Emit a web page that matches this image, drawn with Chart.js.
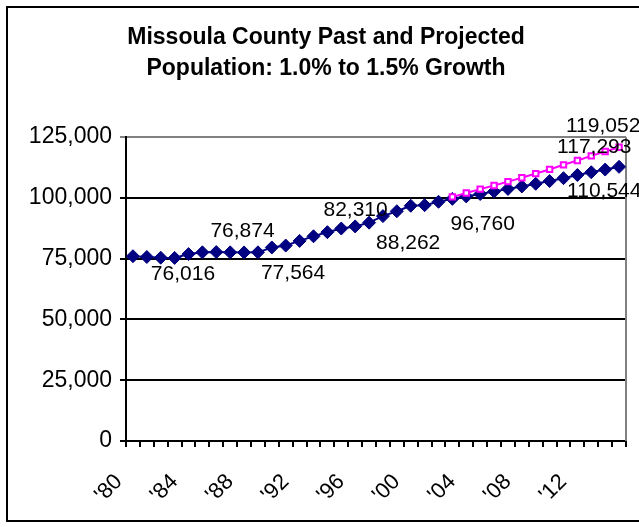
<!DOCTYPE html>
<html>
<head>
<meta charset="utf-8">
<script src="https://cdn.jsdelivr.net/npm/chart.js@4.4.1/dist/chart.umd.min.js"></script>
<style>
  html, body { margin: 0; padding: 0; background: #fff; overflow: hidden; }
</style>
</head>
<body>
<canvas id="population-chart" width="639" height="527"></canvas>
<script>
const years = [
  1980, 1981, 1982, 1983, 1984, 1985, 1986, 1987, 1988, 1989,
  1990, 1991, 1992, 1993, 1994, 1995, 1996, 1997, 1998, 1999,
  2000, 2001, 2002, 2003, 2004, 2005, 2006, 2007, 2008, 2009,
  2010, 2011, 2012, 2013, 2014, 2015,
];
const labeledYears = [1980, 1984, 1988, 1992, 1996, 2000, 2004, 2008, 2012];

// past estimates, then the 1.0% projection
const growthOnePercent = [
  76016, 75700, 75400, 75300, 76874, 77600, 77700, 77600, 77564, 77600,
  79600, 80400, 82310, 84200, 85900, 87400, 88262, 89800, 92500, 94500,
  96760, 97000, 98400, 99600, 100600, 101600, 102600, 103700, 104700, 105800,
  106900, 108100, 109400, 110544, 111649, 112766,
];
// 1.5% projection, starting 2003
const growthOneHalfPercent = [
  null, null, null, null, null, null, null, null, null, null,
  null, null, null, null, null, null, null, null, null, null,
  null, null, null, 100400, 102000, 103600, 105100, 106700, 108300, 110000,
  111700, 113600, 115400, 117293, 119052, 120838,
];
const yTickValues = [0, 25000, 50000, 75000, 100000, 125000];

const FONT = "'Liberation Sans', Arial, sans-serif";

// which points get a value label and where the text sits relative to the point
const valueLabels = [
  { series: 0, year: 1980, dx: 50, dy: 18 },
  { series: 0, year: 1984, dx: 54, dy: -23 },
  { series: 0, year: 1988, dx: 49, dy: 21 },
  { series: 0, year: 1992, dx: 56, dy: -31 },
  { series: 0, year: 1996, dx: 53, dy: 17 },
  { series: 0, year: 2000, dx: 72, dy: 18 },
  { series: 0, year: 2013, dx: 13, dy: 19 },
  { series: 1, year: 2013, dx: 3, dy: -9 },
  { series: 1, year: 2014, dx: -2, dy: -25 },
];

const frameAndLabels = {
  id: 'frameAndLabels',
  beforeDraw(chart) {
    const ctx = chart.ctx;
    ctx.save();
    ctx.fillStyle = '#fff';
    ctx.fillRect(0, 0, chart.width, chart.height);
    ctx.strokeStyle = '#000';
    ctx.lineWidth = 2;
    ctx.strokeRect(7, 7, 660, 514);
    ctx.restore();
  },
  beforeDatasetsDraw(chart) {
    const { ctx, chartArea } = chart;
    ctx.save();
    ctx.strokeStyle = '#808080';
    ctx.lineWidth = 2;
    ctx.beginPath();
    ctx.moveTo(chartArea.right, chartArea.top);
    ctx.lineTo(chartArea.right, chartArea.bottom);
    ctx.stroke();
    ctx.restore();
  },
  afterDatasetsDraw(chart) {
    const ctx = chart.ctx;
    ctx.save();
    ctx.font = '21px ' + FONT;
    ctx.fillStyle = '#000';
    ctx.textAlign = 'center';
    ctx.textBaseline = 'middle';
    valueLabels.forEach((l) => {
      const i = years.indexOf(l.year);
      const pt = chart.getDatasetMeta(l.series).data[i];
      const value = chart.data.datasets[l.series].data[i];
      ctx.fillText(value.toLocaleString('en-US'), pt.x + l.dx, pt.y + l.dy);
    });
    ctx.restore();
  },
};

function renderPopulationChart() {
  new Chart(document.getElementById('population-chart'), {
    type: 'line',
    data: {
      labels: years,
      datasets: [
        {
          label: '1.0% growth',
          data: growthOnePercent,
          borderColor: '#000080',
          backgroundColor: '#000080',
          borderWidth: 2,
          pointStyle: 'rectRot',
          pointRadius: 6.5,
          pointBorderWidth: 1,
          order: 1,
        },
        {
          label: '1.5% growth',
          data: growthOneHalfPercent,
          borderColor: '#ff00ff',
          backgroundColor: '#ffffff',
          borderWidth: 2,
          pointStyle: 'rect',
          pointRadius: 3.8,
          pointBorderWidth: 2,
          order: 0,
        },
      ],
    },
    options: {
      responsive: false,
      animation: false,
      layout: { padding: { left: 26, right: 13, top: 0, bottom: 0 } },
      plugins: {
        legend: { display: false },
        tooltip: { enabled: false },
        title: {
          display: true,
          text: ['Missoula County Past and Projected', 'Population: 1.0% to 1.5% Growth'],
          color: '#000',
          font: { family: FONT, size: 23, weight: 'bold', lineHeight: 1.35 },
          padding: { top: 22, bottom: 53 },
        },
      },
      scales: {
        x: {
          offset: true,
          grid: {
            offset: true,
            drawOnChartArea: false,
            color: '#000',
            lineWidth: 2,
            tickLength: 6,
          },
          border: { color: '#000', width: 2 },
          ticks: {
            autoSkip: false,
            minRotation: 45,
            maxRotation: 45,
            padding: 22,
            labelOffset: -14,
            color: '#000',
            font: { family: FONT, size: 22 },
            callback(value, index) {
              const y = years[index];
              return labeledYears.includes(y) ? "'" + String(y).slice(2) : '';
            },
          },
          afterFit(scale) {
            scale.height = 86;
            scale.paddingLeft = 0;
            scale.paddingRight = 0;
          },
        },
        y: {
          min: yTickValues[0],
          max: yTickValues[yTickValues.length - 1],
          grid: {
            color: (c) => (c.tick && c.tick.value === 125000 ? '#808080' : '#000'),
            lineWidth: 2,
            tickLength: 6,
          },
          border: { color: '#000', width: 2 },
          afterBuildTicks(scale) {
            scale.ticks = yTickValues.map((v) => ({ value: v }));
          },
          ticks: {
            padding: 8,
            color: '#000',
            font: { family: FONT, size: 23 },
            callback: (v) => v.toLocaleString('en-US'),
          },
          afterFit(scale) {
            scale.width = 100;
          },
        },
      },
    },
    plugins: [frameAndLabels],
  });
}

renderPopulationChart();
</script>
</body>
</html>
